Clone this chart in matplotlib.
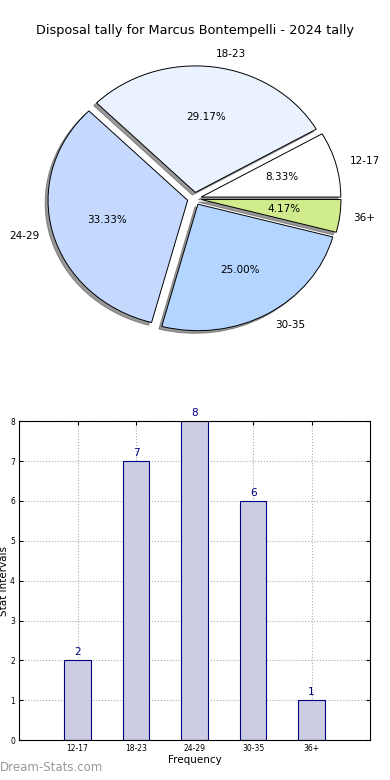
# disposal tally chart: pie of stat intervals + bar chart of frequencies

import numpy as np
import matplotlib.pyplot as plt

intervals = ['12-17', '18-23', '24-29', '30-35', '36+']
counts = [2, 7, 8, 6, 1]
pie_colors = ['#ffffff', '#eaf1ff', '#c5d9ff', '#b3d5ff', '#d0ec8c']
title = 'Disposal tally for Marcus Bontempelli - 2024 tally'

fig = plt.figure(figsize=(3.9, 7.8), dpi=100)

# pie on top
ax1 = fig.add_axes([0.051, 0.5425, 0.895, 0.4055])
wedges, texts, autotexts = ax1.pie(counts, labels=intervals, colors=pie_colors,
                                   explode=[0.05]*len(counts),
                                   shadow={'ox': -0.015, 'oy': -0.015,
                                           'facecolor': '#555555', 'edgecolor': '#555555',
                                           'alpha': 0.6},
                                   autopct='%1.2f%%', startangle=0,
                                   wedgeprops={'edgecolor': 'black', 'linewidth': 0.7},
                                   textprops={'fontsize': 7.5})
ax1.set_aspect('auto')
ax1.set_xlim(-1.25, 1.25)
ax1.set_ylim(-1.25, 1.25)
fig.text(0.5, 0.961, title, ha='center', va='center', fontsize=9.3)

# bars below
ax2 = fig.add_axes([0.049, 0.051, 0.9, 0.409])
x = np.arange(len(intervals))
ax2.bar(x, counts, width=0.45, color='#ccccE4', edgecolor='#000080', linewidth=0.8, zorder=2)
for xi, c in zip(x, counts):
    ax2.text(xi, c + 0.08, str(c), ha='center', va='bottom', color='#000080', fontsize=7.5)
ax2.set_xlim(-1, 5)
ax2.set_ylim(0, 8)
ax2.set_xticks(x)
ax2.set_xticklabels(intervals)
ax2.set_yticks(range(9))
ax2.tick_params(direction='in', labelsize=5.5, top=True, right=True, length=3, pad=3)
ax2.grid(True, linestyle=':', color='#aaaaaa', linewidth=0.8, zorder=0)
ax2.set_xlabel('Frequency', fontsize=7.5, labelpad=1)
ax2.set_ylabel('Stat Intervals', fontsize=7.5, labelpad=1)

fig.text(0.0, 0.012, 'Dream-Stats.com', color='#999999', fontsize=8.5)

plt.savefig('out.png')
